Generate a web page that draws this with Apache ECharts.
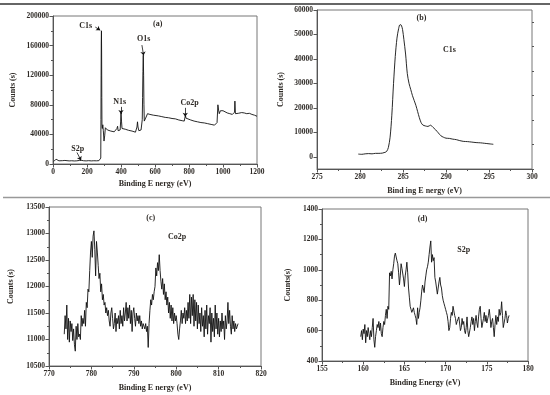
<!DOCTYPE html>
<html>
<head>
<meta charset="utf-8">
<script src="https://cdn.jsdelivr.net/npm/echarts@6.0.0/dist/echarts.min.js"></script>
<style>html,body{margin:0;padding:0;background:#fff;}#c{width:550px;height:395px;}</style>
</head>
<body>
<div id="c"></div>
<script>
// ---- Panel (a): survey spectrum ----
const aEnergy = [5,12,18,22,28,35,45,55,65,70,80,95,110,125,140,155,162,168,180,195,210,225,240,255,270,278,281,282,283,284,285,286,287,288,290,293,296,300,304,308,312,320,330,340,350,360,370,376,380,383,390,395,398,400,403,406,415,425,435,445,455,465,475,485,490,494,497,500,505,512,518,522,525,527,529,531,533,535,537,540,545,550,556,562,570,580,590,600,620,640,660,680,700,720,740,760,772,776,779,782,790,810,830,850,870,890,910,930,950,960,965,970,974,978,985,992,1000,1010,1025,1040,1055,1065,1068,1070,1073,1080,1090,1100,1110,1125,1140,1155,1170,1185,1195,1200];
const aCounts = [3500,4200,6500,5800,4800,4300,4100,4500,5500,4800,4300,4200,4400,4100,4300,4800,5900,4900,4400,4200,4500,4200,4400,4300,4500,5000,8000,60000,120000,165000,180000,150000,90000,52000,48000,53000,45000,31000,38000,49000,47000,46000,45500,44500,44000,43500,44000,48000,51000,45000,44500,46000,58000,69000,58000,48000,46500,47000,46000,45500,45000,44500,44000,43000,44000,50000,57000,50000,45000,44500,46000,48000,60000,90000,125000,147000,120000,80000,58000,56000,62000,63000,68000,69000,67000,67500,66000,65500,65000,64000,63000,62500,61500,61000,59500,58500,58000,60000,66000,62000,61000,59500,58000,57000,56000,55500,54500,53500,52500,52000,56000,80000,73000,68000,72000,74000,72000,70000,69000,68000,67000,66500,70000,85000,68000,67000,68500,70000,69500,69000,68000,68500,67000,66000,65000,64500];
const aXTicks = [0, 1200, 200];
const aYTicks = [0, 200000, 40000];

// ---- Panel (b): C1s ----
const bEnergy = [279.8,280.2,280.6,281.0,281.4,281.8,282.2,282.6,282.9,283.1,283.3,283.5,283.7,283.9,284.1,284.3,284.5,284.65,284.8,284.95,285.1,285.3,285.5,285.7,285.9,286.1,286.3,286.5,286.7,286.9,287.1,287.3,287.6,287.9,288.2,288.5,288.8,289.1,289.4,289.7,290.0,290.4,290.8,291.2,291.6,292.0,292.5,293.0,293.5,294.0,294.5,295.0,295.5];
const bCounts = [1100,1000,1200,1300,1200,1400,1400,1500,1800,2200,3800,8000,17000,30000,41000,48500,52500,54000,53800,52000,48000,42000,34000,30000,27500,25000,23000,21000,18500,16000,14000,13000,12600,12400,12900,12000,11000,9800,8600,8000,7600,7500,7200,7000,6600,6300,6200,6000,5800,5700,5500,5300,5100];
const bXTicks = [275, 300, 5];
const bYLabels = [0,10000,20000,30000,40000,50000,60000];
const bYMinor = [-5000,5000,15000,25000,35000,45000,55000];
const bYRange = [-5000, 60000];

// ---- Panel (c): Co2p (energy grid: start 773.6 eV, 0.2 eV step) ----
const cStart = 773.6, cStep = 0.2;
const cCounts = [
 11100,11450,11200,11650,11000, 11400,10950,11350,11150,11300,
 10980,11200,10900,10780,11250, 11000,11300,11050,11100,11000,
 11450,11250,11400,11300,11550, 11250,11700,11600,11950,11900,
 12300,12650,12850,12550,12950, 13050,12700,12200,12850,12650,
 12400,12150,12250,11900,12050, 11750,11850,11650,11700,11500,
 11600,11450,11550,11350,11250, 11500,11600,11400,11200,11300,
 11500,11150,11400,11300,11450, 11200,11550,11300,11450,11250,
 11600,11350,11500,11700,11350, 11600,11400,11650,11300,11550,
 11150,11500,11600,11400,11250, 11500,11350,11450,11300,11450,
 11250,11350,11200,11300,11250, 11200,11300,11150,11250,10850,
 11300,11550,11750,11650,11850, 11750,11900,12000,12350,12200,
 12450,12300,12600,12300,12100, 11950,12150,11850,12050,11750,
 11900,11650,11800,11500,11700, 11400,11650,11350,11600,11300,
 11500,11350,11450,11300,11100, 11000,11200,11350,11550,11300,
 11500,11400,11600,11300,11550, 11350,11700,11400,11850,11300,
 11800,11450,11850,11250,11750, 11350,11700,11200,11650,11300,
 11500,11150,11600,11250,11450, 11050,11550,11200,11650,11100,
 11450,11300,11600,10950,11500, 11150,11400,11050,11650,11200,
 11500,11100,11400,11050,11350, 11150,11500,11200,11350,11000,
 11450,11200,11350,11700,11300, 11550,11250,11100,11450,11200,
 11350,11150,11300,11200,11250, 11300];
const cXTicks = [770, 820, 10];
const cYTicks = [10500, 13500, 500];

// ---- Panel (d): S2p (energy grid: start 159.7 eV, 0.1 eV step) ----
const dStart = 159.7, dStep = 0.1;
const dCounts = [
 560,600,540,610,580,640,520,600,560,620,
 580,540,600,560,620,680,540,490,560,600,
 640,620,660,600,650,580,560,620,660,640,
 700,740,680,760,740,980,960,990,940,1000,
 1040,1090,1110,1100,1060,1040,980,900,960,1040,
 1010,1000,940,890,960,1000,1050,980,880,820,
 760,740,720,730,750,720,700,680,640,750,
 680,720,750,800,860,900,910,850,920,960,
 1000,1020,1050,1100,1150,1190,1050,1100,1060,1080,
 950,920,880,840,880,920,950,900,880,830,
 800,780,760,740,720,700,660,600,620,680,
 720,700,760,730,700,680,640,660,650,690,
 650,600,620,680,640,660,600,580,620,690,
 600,560,550,620,660,690,640,680,600,660,
 700,650,620,690,740,760,680,620,650,680,
 720,660,700,650,640,700,740,690,620,660,
 680,620,560,640,700,640,690,660,740,700,
 720,790,700,620,610,680,730,700,650,680,
 700];
const dXTicks = [155, 180, 5];
const dYTicks = [400, 1400, 200];

// ---- Annotations (data coordinates) ----
const aNotes = [['(a)',616,188800],['C1s',192,187000],['O1s',533,169600],['N1s',392,83500],['Co2p',804,82600],['S2p',145,21000]];
const aArrows = [[[249,185000],[278,180800]],[[523,160700],[533,146500]],[[400,77200],[400,67500]],[[778,75900],[778,64000]],[[141,15600],[165,4800]]];
const bNotes = [['(b)',287.15,56600],['C1s',290.4,43650]];
const cNotes = [['(c)',794,13293],['Co2p',800.2,12930]];
const dNotes = [['(d)',167.2,1334],['S2p',172.2,1131]];

const FONT = 'Liberation Serif';
const TXT = '#2e2a26';
const AX = '#555';

function pairs(xs, ys){ return ys.map((y,i)=>[xs[i], y]); }
function gridPairs(start, step, ys){ return ys.map((y,i)=>[Math.round((start+i*step)*100)/100, y]); }

function baseAxis(gi){
  return {
    gridIndex: gi, type:'value',
    axisLine:{show:true, onZero:false, lineStyle:{color:AX, width:1}},
    axisTick:{show:true, inside:false, length:3.5, lineStyle:{color:AX, width:1}},
    minorTick:{show:true, splitNumber:2, length:2, lineStyle:{color:AX, width:1}},
    splitLine:{show:false},
    axisLabel:{fontFamily:FONT, fontWeight:'bold', fontSize:7.5, color:TXT, margin:4, formatter:(v)=>String(v)},
    nameTextStyle:{fontFamily:FONT, fontWeight:'bold', fontSize:8, color:TXT},
    nameLocation:'middle'
  };
}
function xAxis(gi, t, name, gap){
  return Object.assign(baseAxis(gi), {min:t[0], max:t[1], interval:t[2], name:name, nameGap:gap});
}
function yAxis(gi, t, name, gap){
  return Object.assign(baseAxis(gi), {min:t[0], max:t[1], interval:t[2], name:name, nameGap:gap});
}

function notePoints(notes, size){
  return {
    symbol:'circle', symbolSize:1, silent:true,
    itemStyle:{color:'rgba(0,0,0,0)'},
    label:{show:true, position:'inside', fontFamily:FONT, fontWeight:'bold', fontSize:size, color:TXT, formatter:(p)=>p.name},
    data: notes.map(n=>({name:n[0], coord:[n[1], n[2]]}))
  };
}

const lineStyle = {color:'#111', width:0.9};

const bYAxis = Object.assign(baseAxis(1), {
  min:bYRange[0], max:bYRange[1], name:'Counts (s)', nameGap:32,
  axisTick:{show:true, length:3.5, customValues:bYLabels, lineStyle:{color:AX}},
  minorTick:{show:false}
});
bYAxis.axisLabel = Object.assign({}, bYAxis.axisLabel, {customValues:bYLabels});
const bYAxisMinor = Object.assign(baseAxis(1), {
  min:bYRange[0], max:bYRange[1],
  axisLine:{show:false}, axisLabel:{show:false}, minorTick:{show:false},
  axisTick:{show:true, length:2, customValues:bYMinor, lineStyle:{color:AX}}
});

const grids = [
  {left:53, top:16, width:204, height:148},
  {left:317, top:10, width:215, height:159},
  {left:49, top:207, width:212, height:159},
  {left:322, top:209, width:206, height:152}
].map(g=>Object.assign(g, {show:true, borderColor:'#777', borderWidth:1, backgroundColor:'transparent', containLabel:false}));

const option = {
  animation:false,
  backgroundColor:'#fff',
  grid: grids,
  xAxis:[
    xAxis(0, aXTicks, 'Binding E nergy (eV)', 16),
    xAxis(1, bXTicks, 'Bind ing E nergy (eV)', 18),
    xAxis(2, cXTicks, 'Binding E nergy (eV)', 18),
    xAxis(3, dXTicks, 'Binding Energy (eV)', 18)
  ],
  yAxis:[
    yAxis(0, aYTicks, 'Counts (s)', 36),
    bYAxis,
    yAxis(2, cYTicks, 'Counts (s)', 34),
    yAxis(3, dYTicks, 'Counts(s)', 30),
    bYAxisMinor
  ],
  graphic:[
    {type:'line', shape:{x1:0, y1:4, x2:550, y2:4}, style:{stroke:'#333', lineWidth:1.5}, silent:true},
    {type:'line', shape:{x1:3, y1:197.5, x2:550, y2:197.5}, style:{stroke:'#999', lineWidth:1.5}, silent:true}
  ],
  series:[
    {type:'line', xAxisIndex:0, yAxisIndex:0, data:pairs(aEnergy, aCounts), showSymbol:false, lineStyle:lineStyle,
     markPoint:notePoints(aNotes, 8),
     markLine:{silent:true, symbol:['none','arrow'], symbolSize:4, label:{show:false},
       lineStyle:{color:'#111', width:0.8, type:'solid'},
       data:aArrows.map(a=>[{coord:a[0]},{coord:a[1]}])}},
    {type:'line', xAxisIndex:1, yAxisIndex:1, data:pairs(bEnergy, bCounts), showSymbol:false, smooth:0.3, lineStyle:lineStyle,
     markPoint:notePoints(bNotes, 8)},
    {type:'line', xAxisIndex:2, yAxisIndex:2, data:gridPairs(cStart, cStep, cCounts), showSymbol:false, lineStyle:lineStyle,
     markPoint:notePoints(cNotes, 8)},
    {type:'line', xAxisIndex:3, yAxisIndex:3, data:gridPairs(dStart, dStep, dCounts), showSymbol:false, lineStyle:lineStyle,
     markPoint:notePoints(dNotes, 8)}
  ]
};

const chart = echarts.init(document.getElementById('c'), null, {renderer:'canvas'});
chart.setOption(option);
</script>
</body>
</html>
